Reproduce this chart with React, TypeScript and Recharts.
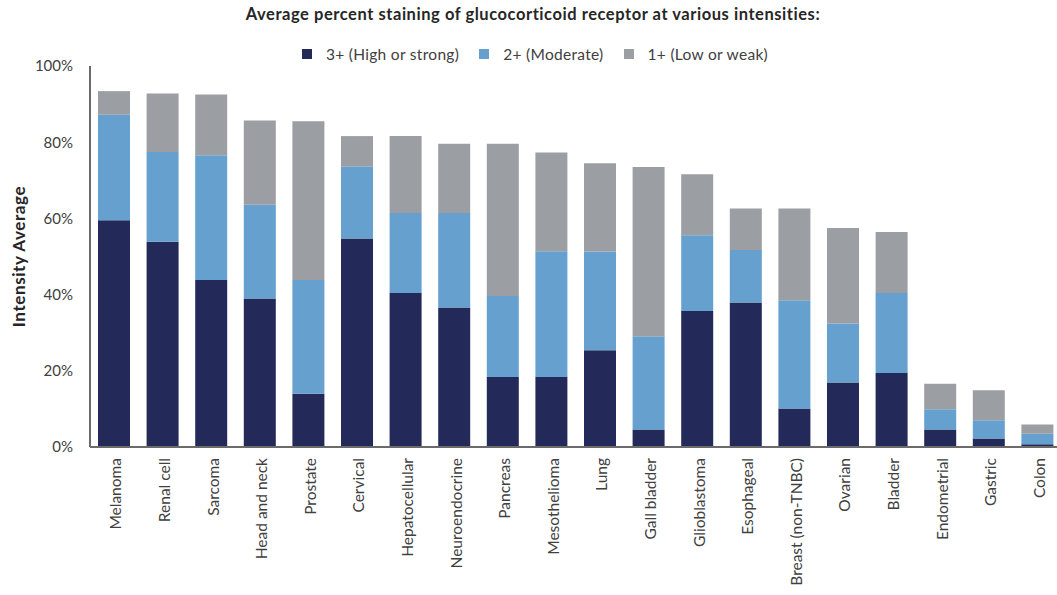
import React from 'react';
import { BarChart, Bar, XAxis, YAxis, Legend } from 'recharts';

const categories = [
  'Melanoma', 'Renal cell', 'Sarcoma', 'Head and neck', 'Prostate', 'Cervical',
  'Hepatocellular', 'Neuroendocrine', 'Pancreas', 'Mesothelioma', 'Lung', 'Gall bladder',
  'Glioblastoma', 'Esophageal', 'Breast (non-TNBC)', 'Ovarian', 'Bladder', 'Endometrial',
  'Gastric', 'Colon',
];
const strong = [59.5, 53.9, 43.8, 39.0, 14.0, 54.7, 40.4, 36.6, 18.4, 18.4, 25.4, 4.6, 35.7, 37.9, 10.1, 16.9, 19.4, 4.6, 2.2, 0.7];
const moderate = [27.7, 23.5, 32.8, 24.6, 29.8, 18.9, 21.0, 24.8, 21.2, 33.0, 25.9, 24.5, 19.9, 13.8, 28.4, 15.5, 21.0, 5.3, 4.8, 2.8];
const weak = [6.2, 15.4, 15.9, 22.1, 41.7, 8.0, 20.2, 18.2, 40.0, 25.9, 23.2, 44.4, 16.0, 10.9, 24.1, 25.1, 16.0, 6.7, 7.9, 2.4];
const yTicks = [0, 20, 40, 60, 80, 100];

const series = [
  { key: 'strong', name: '3+ (High or strong)', color: '#232A59' },
  { key: 'moderate', name: '2+ (Moderate)', color: '#65A0CF' },
  { key: 'weak', name: '1+ (Low or weak)', color: '#9B9EA2' },
];

const data = categories.map((c, i) => ({
  name: c,
  strong: strong[i],
  moderate: moderate[i],
  weak: weak[i],
}));

const FONT = 'Lato, "Open Sans", sans-serif';
const TEXT = '#404040';

const XTick = (props: any) => {
  const { x, y, payload } = props;
  return (
    <g transform={`translate(${x + 1},${y})`}>
      <text
        transform="rotate(-90)"
        textAnchor="end"
        dominantBaseline="central"
        fontFamily={FONT}
        fontSize={15.5}
        fill={TEXT}
      >
        {payload.value}
      </text>
    </g>
  );
};

const LegendContent = () => (
  <div style={{ display: 'flex', justifyContent: 'center', fontFamily: FONT, fontSize: 15.5, color: TEXT, letterSpacing: 0.3 }}>
    {series.map((s) => (
      <div key={s.key} style={{ display: 'flex', alignItems: 'center', margin: '0 10px' }}>
        <span style={{ width: 10, height: 10, background: s.color, display: 'inline-block', marginRight: 14 }} />
        <span>{s.name}</span>
      </div>
    ))}
  </div>
);

export default function App() {
  return (
    <div style={{ position: 'absolute', left: 0, top: 0, width: 1057, height: 595, overflow: 'hidden', background: '#fff' }}>
      <div
        style={{
          position: 'absolute',
          top: 4,
          left: 0,
          width: 1066,
          textAlign: 'center',
          fontFamily: FONT,
          fontWeight: 700,
          fontSize: 16.5,
          letterSpacing: 0.55,
          color: '#262626',
        }}
      >
        Average percent staining of glucocorticoid receptor at various intensities:
      </div>
      <BarChart width={1062} height={595} data={data} margin={{ top: 66, right: 0, bottom: 0, left: 0 }}>
        <Legend
          verticalAlign="middle"
          align="center"
          content={<LegendContent />}
          wrapperStyle={{ top: 45, left: 0, width: 1070 }}
        />
        <XAxis
          dataKey="name"
          interval={0}
          height={148}
          tickLine={false}
          tickSize={0}
          tickMargin={11}
          axisLine={{ stroke: '#6B6B6B', strokeWidth: 2 }}
          tick={<XTick />}
        />
        <YAxis
          width={90}
          domain={[0, 100]}
          ticks={yTicks}
          tickFormatter={(v: number) => `${v}%`}
          tickLine={false}
          tickSize={0}
          tickMargin={17}
          axisLine={{ stroke: '#6B6B6B', strokeWidth: 2 }}
          tick={{ fontFamily: FONT, fontSize: 15, fill: TEXT }}
          label={(p: any) => {
            const vb = p.viewBox || {};
            const cy = (vb.y ?? 66) + (vb.height ?? 381) / 2;
            return (
              <text
                x={18}
                y={cy}
                transform={`rotate(-90, 18, ${cy})`}
                textAnchor="middle"
                dominantBaseline="central"
                fontFamily={FONT}
                fontWeight={700}
                fontSize={17}
                letterSpacing={0.6}
                fill="#262626"
              >
                Intensity Average
              </text>
            );
          }}
        />
        {series.map((s) => (
          <Bar
            key={s.key}
            dataKey={s.key}
            name={s.name}
            stackId="a"
            fill={s.color}
            barSize={32}
            isAnimationActive={false}
          />
        ))}
      </BarChart>
    </div>
  );
}
